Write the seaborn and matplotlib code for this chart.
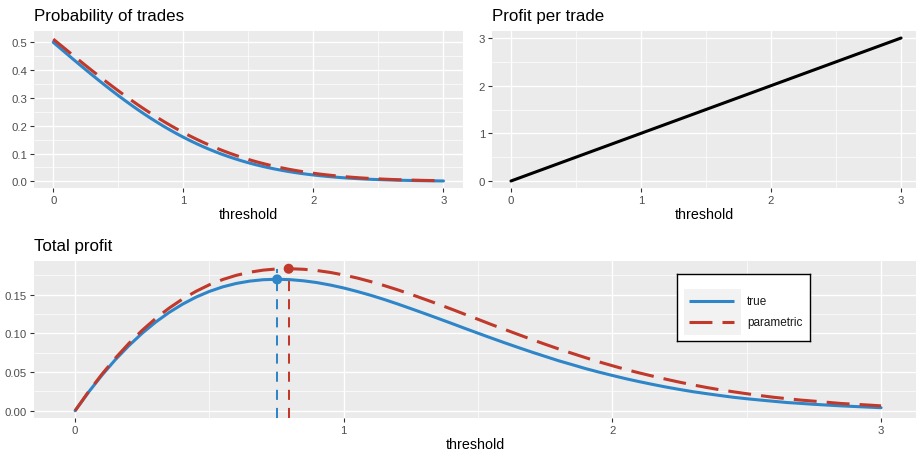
import matplotlib
matplotlib.use("Agg")
import matplotlib.pyplot as plt
import seaborn as sns
import pandas as pd

# ---- data -------------------------------------------------------------
threshold = [0.00, 0.05, 0.10, 0.15, 0.20, 0.25, 0.30, 0.35, 0.40, 0.45,
             0.50, 0.55, 0.60, 0.65, 0.70, 0.75, 0.80, 0.85, 0.90, 0.95,
             1.00, 1.05, 1.10, 1.15, 1.20, 1.25, 1.30, 1.35, 1.40, 1.45,
             1.50, 1.55, 1.60, 1.65, 1.70, 1.75, 1.80, 1.85, 1.90, 1.95,
             2.00, 2.05, 2.10, 2.15, 2.20, 2.25, 2.30, 2.35, 2.40, 2.45,
             2.50, 2.55, 2.60, 2.65, 2.70, 2.75, 2.80, 2.85, 2.90, 2.95, 3.00]

prob_true = [0.5000, 0.4801, 0.4602, 0.4404, 0.4207, 0.4013, 0.3821, 0.3632,
             0.3446, 0.3264, 0.3085, 0.2912, 0.2743, 0.2578, 0.2420, 0.2266,
             0.2119, 0.1977, 0.1841, 0.1711, 0.1587, 0.1469, 0.1357, 0.1251,
             0.1151, 0.1056, 0.0968, 0.0885, 0.0808, 0.0735, 0.0668, 0.0606,
             0.0548, 0.0495, 0.0446, 0.0401, 0.0359, 0.0322, 0.0287, 0.0256,
             0.0228, 0.0202, 0.0179, 0.0158, 0.0139, 0.0122, 0.0107, 0.0094,
             0.0082, 0.0071, 0.0062, 0.0054, 0.0047, 0.0040, 0.0035, 0.0030,
             0.0026, 0.0022, 0.0019, 0.0016, 0.0013]

prob_param = [0.5115, 0.4923, 0.4732, 0.4541, 0.4351, 0.4162, 0.3976, 0.3792,
              0.3610, 0.3432, 0.3257, 0.3085, 0.2918, 0.2755, 0.2597, 0.2444,
              0.2295, 0.2152, 0.2014, 0.1882, 0.1755, 0.1634, 0.1518, 0.1408,
              0.1303, 0.1204, 0.1110, 0.1022, 0.0939, 0.0861, 0.0788, 0.0719,
              0.0656, 0.0597, 0.0542, 0.0491, 0.0444, 0.0401, 0.0361, 0.0324,
              0.0291, 0.0260, 0.0233, 0.0208, 0.0185, 0.0164, 0.0145, 0.0128,
              0.0113, 0.0100, 0.0088, 0.0077, 0.0067, 0.0059, 0.0051, 0.0045,
              0.0039, 0.0033, 0.0029, 0.0025, 0.0021]

per_trade_x = [0.0, 3.0]
per_trade = [0.0, 3.0]

total_true = [0.0000, 0.0240, 0.0460, 0.0661, 0.0841, 0.1003, 0.1146, 0.1271,
              0.1378, 0.1469, 0.1543, 0.1602, 0.1646, 0.1676, 0.1694, 0.1700,
              0.1695, 0.1680, 0.1657, 0.1625, 0.1587, 0.1542, 0.1493, 0.1439,
              0.1381, 0.1320, 0.1258, 0.1195, 0.1131, 0.1066, 0.1002, 0.0939,
              0.0877, 0.0817, 0.0758, 0.0702, 0.0646, 0.0596, 0.0545, 0.0499,
              0.0456, 0.0414, 0.0376, 0.0340, 0.0306, 0.0275, 0.0246, 0.0221,
              0.0197, 0.0174, 0.0155, 0.0138, 0.0122, 0.0106, 0.0095, 0.0083,
              0.0073, 0.0063, 0.0055, 0.0047, 0.0039]

total_param = [0.0000, 0.0246, 0.0473, 0.0681, 0.0870, 0.1041, 0.1193, 0.1327,
               0.1444, 0.1544, 0.1629, 0.1697, 0.1751, 0.1791, 0.1818, 0.1833,
               0.1836, 0.1829, 0.1813, 0.1788, 0.1755, 0.1716, 0.1670, 0.1619,
               0.1564, 0.1505, 0.1443, 0.1380, 0.1315, 0.1248, 0.1182, 0.1114,
               0.1050, 0.0985, 0.0921, 0.0859, 0.0799, 0.0742, 0.0686, 0.0632,
               0.0582, 0.0533, 0.0489, 0.0447, 0.0407, 0.0369, 0.0334, 0.0301,
               0.0271, 0.0245, 0.0220, 0.0196, 0.0174, 0.0156, 0.0138, 0.0124,
               0.0109, 0.0094, 0.0084, 0.0074, 0.0063]

series = ["true", "parametric"]
peak_x = [0.752, 0.795]
peak_y = [0.1698, 0.1836]

# ---- style ------------------------------------------------------------
BLUE = "#2E86C8"
RED = "#C0392B"
TICK_GREY = "#4D4D4D"

sns.set_style("darkgrid", {
    "axes.facecolor": "#EBEBEB",
    "grid.color": "white",
    "axes.edgecolor": "none",
    "xtick.bottom": True,
    "ytick.left": True,
})
plt.rcParams["font.family"] = ["Liberation Sans", "DejaVu Sans"]
plt.rcParams["xtick.color"] = "#333333"
plt.rcParams["ytick.color"] = "#333333"

W, H = 916, 452
fig = plt.figure(figsize=(W / 100, H / 100), dpi=100)
fig.patch.set_facecolor("white")


def px_axes(left, top, right, bottom):
    return fig.add_axes([left / W, 1 - bottom / H, (right - left) / W, (bottom - top) / H])


LW = 2.2
DASH = (0, (7.5, 3.3))


def style_axes(ax, title, xlim, ylim, xticks, yticks, xminor, yminor, yfmt):
    ax.set_xlim(*xlim)
    ax.set_ylim(*ylim)
    ax.set_xticks(xticks)
    ax.set_xticklabels([f"{t:g}" for t in xticks])
    ax.set_yticks(yticks)
    ax.set_yticklabels([yfmt.format(t) for t in yticks])
    ax.set_xticks(xminor, minor=True)
    ax.set_yticks(yminor, minor=True)
    ax.grid(which="major", color="white", linewidth=1.0)
    ax.grid(which="minor", color="white", linewidth=0.5)
    ax.tick_params(which="major", length=3, width=0.8, pad=2,
                   labelsize=8.2, labelcolor=TICK_GREY)
    ax.tick_params(which="minor", length=0)
    for s in ax.spines.values():
        s.set_visible(False)
    ax.set_xlabel("threshold", fontsize=10.3, color="black", labelpad=1.5)
    ax.set_ylabel("")
    ax.set_title(title, loc="left", fontsize=12.2, color="black", pad=8)
    ax.set_axisbelow(True)


# ---- panel 1: probability of trades -----------------------------------
ax1 = px_axes(34, 32, 463, 189)
sns.lineplot(x=threshold, y=prob_true, ax=ax1, color=BLUE, linewidth=LW)
sns.lineplot(x=threshold, y=prob_param, ax=ax1, color=RED, linewidth=LW, linestyle=DASH)
style_axes(ax1, "Probability of trades", (-0.148, 3.15), (-0.024, 0.5407),
           [0, 1, 2, 3], [0.0, 0.1, 0.2, 0.3, 0.4, 0.5],
           [0.5, 1.5, 2.5], [0.05, 0.15, 0.25, 0.35, 0.45], "{:.1f}")

# ---- panel 2: profit per trade ----------------------------------------
ax2 = px_axes(492, 32, 916, 189)
sns.lineplot(x=per_trade_x, y=per_trade, ax=ax2, color="black", linewidth=LW)
style_axes(ax2, "Profit per trade", (-0.146, 3.115), (-0.147, 3.147),
           [0, 1, 2, 3], [0, 1, 2, 3],
           [0.5, 1.5, 2.5], [0.5, 1.5, 2.5], "{:g}")

# ---- panel 3: total profit --------------------------------------------
ax3 = px_axes(34, 262, 916, 419)
ylim3 = (-0.0094, 0.1936)
sns.lineplot(x=threshold, y=total_true, ax=ax3, color=BLUE, linewidth=LW)
sns.lineplot(x=threshold, y=total_param, ax=ax3, color=RED, linewidth=LW, linestyle=DASH)
vline_top = max(peak_y)
for px_, col in zip(peak_x, [BLUE, RED]):
    ax3.plot([px_, px_], [ylim3[0], vline_top], color=col, linewidth=1.45,
             linestyle=(0, (5, 4)))
peaks = pd.DataFrame({"threshold": peak_x, "profit": peak_y, "series": series})
sns.scatterplot(data=peaks, x="threshold", y="profit", hue="series",
                palette={"true": BLUE, "parametric": RED}, s=52,
                edgecolor="none", ax=ax3, legend=False, zorder=5)
style_axes(ax3, "Total profit", (-0.153, 3.13), ylim3,
           [0, 1, 2, 3], [0.00, 0.05, 0.10, 0.15],
           [0.5, 1.5, 2.5], [0.025, 0.075, 0.125, 0.175], "{:.2f}")

# ---- legend box -------------------------------------------------------
lg = px_axes(677, 275, 810, 342)
lg.set_xlim(0, 133)
lg.set_ylim(67, 0)
lg.set_facecolor("white")
lg.grid(False)
lg.set_xticks([])
lg.set_yticks([])
for s in lg.spines.values():
    s.set_visible(True)
    s.set_edgecolor("black")
    s.set_linewidth(1.0)
lg.add_patch(plt.Rectangle((7, 15), 57, 46, facecolor="#F2F2F2", edgecolor="none"))
lg.plot([12, 57], [26.7, 26.7], color=BLUE, linewidth=LW, solid_capstyle="butt")
lg.plot([12, 57], [48.3, 48.3], color=RED, linewidth=LW, linestyle=DASH)
for yy, name in zip([26.7, 48.3], series):
    lg.text(70, yy, name, fontsize=8.5, color="#1A1A1A", va="center", ha="left")

fig.savefig("out.png", dpi=100, facecolor="white")
